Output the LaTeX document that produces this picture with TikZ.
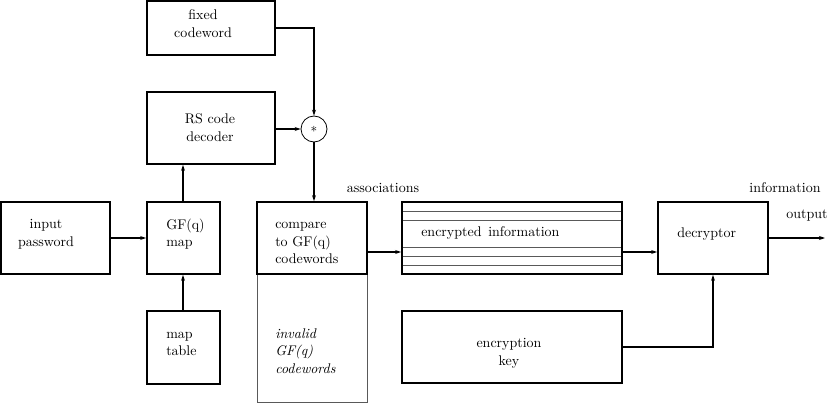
\documentclass[tikz,border=0pt]{standalone}
\usetikzlibrary{arrows.meta,fit}
\begin{document}
\begin{tikzpicture}[x=0.75pt,y=-0.75pt,
  box/.style={draw,line width=1.4pt,inner sep=0pt},
  thinbox/.style={draw=black!65,line width=0.6pt,inner sep=0pt},
  txt/.style={inner sep=0pt,font=\fontsize{10.5}{13.3}\selectfont},
  arr/.style={line width=1.3pt,-{Stealth[length=4.5pt,width=3pt]}},
  rule/.style={draw=black!65,line width=0.6pt}]
\useasboundingbox (0,0) rectangle (829,403);
% boxes
\node[box,fit={(147,1)(275,55)}] (fixed) {};
\node[box,fit={(147,92)(275,164)}] (rs) {};
\node[draw,circle,line width=0.6pt,minimum size=19.5pt,inner sep=0pt] (star) at (314,129) {$*$};
\node[box,fit={(1,202)(110,274)}] (input) {};
\node[box,fit={(147,202)(220,274)}] (gf) {};
\node[box,fit={(147,311)(220,384)}] (table) {};
\node[thinbox,fit={(257,274)(367,402)}] (invalid) {};
\node[box,fit={(257,202)(367,274)}] (compare) {};
\node[box,fit={(402,202)(622,274)}] (enc) {};
\node[box,fit={(658,202)(768,274)}] (dec) {};
\node[box,fit={(402,311)(622,383)}] (key) {};
% rules inside encrypted information
\foreach \yy in {211,220,247,256,265}
  \draw[rule] (403,\yy) -- (621,\yy);
% texts
\node[txt,align=center] (tfixed) at (203,24) {fixed\\codeword};
\node[txt,align=center] (trs) at (210,128) {RS code\\decoder};
\node[txt,align=center] (tinput) at (46,234) {input\\password};
\node[txt,align=left,anchor=west] (tgf) at (166,234) {GF(q)\\map};
\node[txt,align=left,anchor=west] (ttable) at (166,344) {map\\table};
\node[txt,align=left,anchor=west] (tcompare) at (275,243) {compare\\to GF(q)\\codewords};
\node[txt,align=left,anchor=west] (tinvalid) at (275,351) {\itshape invalid\\\itshape GF(q)\\\itshape codewords};
\node[txt,anchor=west] (tenc) at (421,233) {encrypted\hspace{5pt}information};
\node[txt,anchor=west] (tdec) at (677,234) {decryptor};
\node[txt,align=center] (tkey) at (509,353) {encryption\\key};
\node[txt] (tassoc) at (383,188) {associations};
\node[txt] (tinfo) at (785,188) {information};
\node[txt] (tout) at (807,216) {output};
% connectors
\coordinate (ay) at (0,252);
\coordinate (outend) at (825,238);
\draw[arr] (fixed.east) -| (star.north);
\draw[arr] (rs.east |- star.west) -- (star.west);
\draw[arr] (star.south) -- (star.south |- compare.north);
\draw[arr] (input.east) -- (gf.west);
\draw[arr] (gf.north -| 183,0) -- (rs.south -| 183,0);
\draw[arr] (table.north -| 183,0) -- (gf.south -| 183,0);
\draw[arr] (compare.east |- ay) -- (enc.west |- ay);
\draw[arr] (enc.east |- ay) -- (dec.west |- ay);
\draw[arr] (dec.east) -- (outend);
\draw[arr] (key.east |- 0,347) -| (dec.south);
\end{tikzpicture}
\end{document}
